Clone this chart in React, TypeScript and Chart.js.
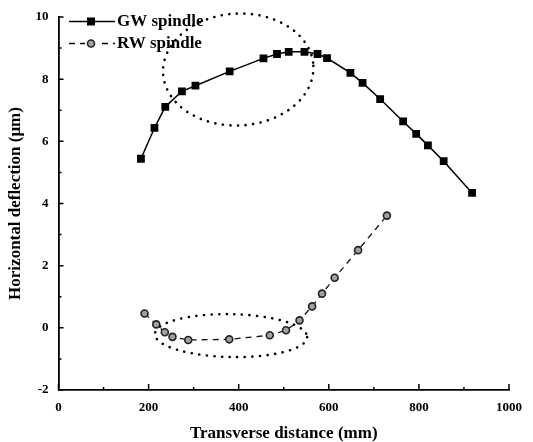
import React, { useEffect, useRef } from "react";
import { Chart, registerables } from "chart.js";

Chart.register(...registerables);

const gwX = [183, 213, 237, 274, 304, 380, 455, 485, 511, 546, 575, 596, 648, 675, 714, 765, 794, 820, 855, 918];
const gwY = [5.44, 6.43, 7.11, 7.61, 7.79, 8.25, 8.67, 8.81, 8.88, 8.88, 8.81, 8.68, 8.2, 7.88, 7.36, 6.64, 6.24, 5.87, 5.36, 4.34];
const rwX = [191, 217, 236, 253, 288, 379, 469, 505, 535, 563, 585, 613, 665, 729];
const rwY = [0.46, 0.11, -0.14, -0.29, -0.39, -0.37, -0.24, -0.08, 0.24, 0.69, 1.1, 1.61, 2.5, 3.61];

const seriesNames = ["GW spindle", "RW spindle"];
const xTitle = "Transverse distance (mm)";
const yTitle = "Horizontal deflection (\u03bcm)";
const xMajor = [0, 200, 400, 600, 800, 1000];
const xMinor = [100, 300, 500, 700, 900];
const yMajor = [-2, 0, 2, 4, 6, 8, 10];
const yMinor = [-1, 1, 3, 5, 7, 9];

// highlighted regions (center x, center y, radius x, radius y) in data units
const ellipseCX = [399, 383];
const ellipseCY = [8.31, -0.25];
const ellipseRX = [167, 169];
const ellipseRY = [1.8, 0.69];

const FONT = "'Liberation Serif', 'Times New Roman', serif";

const overlay = {
  id: "overlay",
  afterDraw(chart: any) {
    const { ctx, chartArea, scales } = chart;
    const xs = scales.x;
    const ys = scales.y;
    ctx.save();
    // tick marks (inward)
    ctx.strokeStyle = "#000";
    ctx.lineWidth = 1.5;
    ctx.beginPath();
    xMajor.forEach((v) => {
      const px = xs.getPixelForValue(v);
      ctx.moveTo(px, chartArea.bottom);
      ctx.lineTo(px, chartArea.bottom - 6);
    });
    xMinor.forEach((v) => {
      const px = xs.getPixelForValue(v);
      ctx.moveTo(px, chartArea.bottom);
      ctx.lineTo(px, chartArea.bottom - 3);
    });
    yMajor.forEach((v) => {
      const py = ys.getPixelForValue(v);
      ctx.moveTo(chartArea.left, py);
      ctx.lineTo(chartArea.left + 5, py);
    });
    yMinor.forEach((v) => {
      const py = ys.getPixelForValue(v);
      ctx.moveTo(chartArea.left, py);
      ctx.lineTo(chartArea.left + 3, py);
    });
    ctx.stroke();

    // dotted ellipses
    ctx.setLineDash([0.1, 7.5]);
    ctx.lineCap = "round";
    ctx.lineWidth = 2.6;
    const rots = [-0.05, 0.02];
    for (let i = 0; i < ellipseCX.length; i++) {
      const cx = xs.getPixelForValue(ellipseCX[i]);
      const cy = ys.getPixelForValue(ellipseCY[i]);
      const rx = Math.abs(xs.getPixelForValue(ellipseCX[i] + ellipseRX[i]) - cx);
      const ry = Math.abs(ys.getPixelForValue(ellipseCY[i] + ellipseRY[i]) - cy);
      ctx.beginPath();
      ctx.ellipse(cx, cy, rx, ry, rots[i], 0, Math.PI * 2);
      ctx.stroke();
    }
    ctx.setLineDash([]);
    ctx.lineCap = "butt";

    // legend
    const lx0 = 69, lx1 = 115, mx = 91;
    const rows = [21.5, 43.5];
    ctx.lineWidth = 1.5;
    ctx.strokeStyle = "#000";
    ctx.beginPath();
    ctx.moveTo(lx0, rows[0]);
    ctx.lineTo(lx1, rows[0]);
    ctx.stroke();
    ctx.fillStyle = "#000";
    ctx.fillRect(mx - 4, rows[0] - 4, 8, 8);
    ctx.setLineDash([6, 5]);
    ctx.beginPath();
    ctx.moveTo(lx0, rows[1]);
    ctx.lineTo(lx1, rows[1]);
    ctx.stroke();
    ctx.setLineDash([]);
    ctx.fillStyle = "#fff";
    ctx.fillRect(mx - 6, rows[1] - 5, 12, 10);
    ctx.beginPath();
    ctx.arc(mx, rows[1], 3.5, 0, Math.PI * 2);
    ctx.fillStyle = "#a0a0a0";
    ctx.fill();
    ctx.strokeStyle = "#222";
    ctx.lineWidth = 1.6;
    ctx.stroke();
    ctx.fillStyle = "#000";
    ctx.font = "bold 17px " + FONT;
    ctx.textBaseline = "middle";
    ctx.textAlign = "left";
    ctx.fillText(seriesNames[0], 117, rows[0]);
    ctx.fillText(seriesNames[1], 117, rows[1]);

    // axis titles
    ctx.font = "bold 17px " + FONT;
    ctx.textAlign = "center";
    ctx.fillText(xTitle, (chartArea.left + chartArea.right) / 2, 434);
    ctx.save();
    ctx.translate(16, (chartArea.top + chartArea.bottom) / 2);
    ctx.rotate(-Math.PI / 2);
    ctx.fillText(yTitle, 0, 0);
    ctx.restore();
    ctx.restore();
  },
};

export default function App() {
  const ref = useRef<HTMLCanvasElement | null>(null);
  useEffect(() => {
    if (!ref.current) return;
    const chart = new Chart(ref.current, {
      type: "line",
      data: {
        datasets: [
          {
            label: seriesNames[0],
            data: gwX.map((x, i) => ({ x, y: gwY[i] })),
            borderColor: "#000",
            backgroundColor: "#000",
            borderWidth: 1.5,
            pointStyle: "rect",
            pointRadius: 5.5,
            pointBorderWidth: 0,
            pointBackgroundColor: "#000",
            tension: 0,
          },
          {
            label: seriesNames[1],
            data: rwX.map((x, i) => ({ x, y: rwY[i] })),
            borderColor: "#111",
            backgroundColor: "#a0a0a0",
            borderWidth: 1.3,
            borderDash: [6, 5],
            pointStyle: "circle",
            pointRadius: 3.5,
            pointBorderWidth: 1.6,
            pointBorderColor: "#222",
            pointBackgroundColor: "#a0a0a0",
            tension: 0,
          },
        ],
      },
      options: {
        animation: false,
        responsive: true,
        maintainAspectRatio: false,
        layout: { padding: { top: 17, right: 24, left: 0, bottom: 0 } },
        plugins: { legend: { display: false }, tooltip: { enabled: false } },
        scales: {
          x: {
            type: "linear",
            min: 0,
            max: 1000,
            ticks: {
              stepSize: 200,
              color: "#000",
              padding: 2,
              maxRotation: 0,
              font: { family: FONT, size: 13, weight: "bold" },
              callback: (v: any) => String(v),
            },
            grid: { display: false },
            border: { display: true, color: "#000", width: 1.8 },
            afterFit: (s: any) => {
              s.height = 52;
            },
          },
          y: {
            type: "linear",
            min: -2,
            max: 10,
            ticks: {
              stepSize: 2,
              color: "#000",
              padding: 2,
              font: { family: FONT, size: 13, weight: "bold" },
              callback: (v: any) => String(v),
            },
            grid: { display: false },
            border: { display: true, color: "#000", width: 1.8 },
            afterFit: (s: any) => {
              s.width = 58.5;
            },
          },
        },
      },
      plugins: [overlay],
    });
    return () => chart.destroy();
  }, []);
  return (
    <div style={{ position: "absolute", left: 0, top: 0, width: 533, height: 442, background: "#fff" }}>
      <canvas ref={ref} />
    </div>
  );
}
